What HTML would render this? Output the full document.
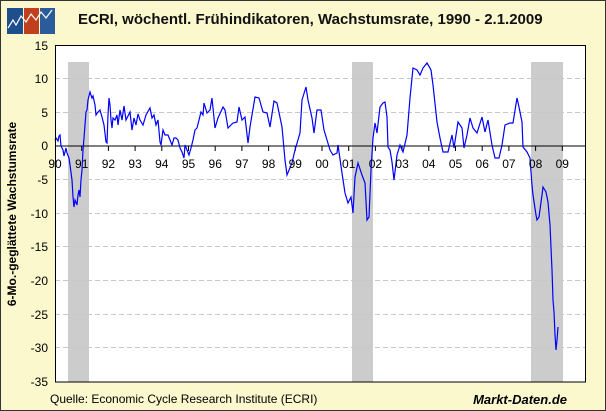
<!DOCTYPE html>
<html><head><meta charset="utf-8"><style>
body{margin:0;width:606px;height:411px;overflow:hidden;background:#FAF8CC;}
svg{display:block;font-family:"Liberation Sans",sans-serif;}
</style></head><body>
<svg width="606" height="411" viewBox="0 0 606 411" xmlns="http://www.w3.org/2000/svg">
<rect x="0.5" y="0.5" width="605" height="410" fill="#FAF8CC" stroke="#333" stroke-width="1"/>
<rect x="7" y="8" width="16" height="26" fill="#1F4E8C"/>
<rect x="24" y="8" width="15" height="26" fill="#C0401E"/>
<rect x="40" y="8" width="15" height="26" fill="#2A5B9A"/>
<polyline points="8,28 13,20 16,25 21,16 26,22 31,14 36,20 41,12 46,18 52,10" fill="none" stroke="#fff" stroke-width="1.2"/>
<text x="78" y="24" font-size="15" font-weight="bold" fill="#111">ECRI, wöchentl. Frühindikatoren, Wachstumsrate, 1990 - 2.1.2009</text>
<rect x="55" y="45" width="530" height="337" fill="#fff"/>
<rect x="68" y="62" width="21" height="320" fill="#CCCCCC"/>
<rect x="352" y="62" width="21" height="320" fill="#CCCCCC"/>
<rect x="531" y="62" width="32" height="320" fill="#CCCCCC"/>
<g stroke="#C8C8C8" stroke-dasharray="5,3" stroke-width="1">
<line x1="55" x2="585" y1="78.5" y2="78.5"/><line x1="55" x2="585" y1="112.5" y2="112.5"/>
<line x1="55" x2="585" y1="179.5" y2="179.5"/><line x1="55" x2="585" y1="213.5" y2="213.5"/>
<line x1="55" x2="585" y1="246.5" y2="246.5"/><line x1="55" x2="585" y1="280.5" y2="280.5"/>
<line x1="55" x2="585" y1="314.5" y2="314.5"/><line x1="55" x2="585" y1="347.5" y2="347.5"/>
</g>
<line x1="55" x2="585" y1="146" y2="146" stroke="#000"/>
<g stroke="#000">
<line x1="81.7" x2="81.7" y1="146" y2="151"/><line x1="108.4" x2="108.4" y1="146" y2="151"/><line x1="135.1" x2="135.1" y1="146" y2="151"/><line x1="161.8" x2="161.8" y1="146" y2="151"/><line x1="188.5" x2="188.5" y1="146" y2="151"/><line x1="215.2" x2="215.2" y1="146" y2="151"/><line x1="241.9" x2="241.9" y1="146" y2="151"/><line x1="268.6" x2="268.6" y1="146" y2="151"/><line x1="295.3" x2="295.3" y1="146" y2="151"/><line x1="322" x2="322" y1="146" y2="151"/><line x1="348.7" x2="348.7" y1="146" y2="151"/><line x1="375.4" x2="375.4" y1="146" y2="151"/><line x1="402.1" x2="402.1" y1="146" y2="151"/><line x1="428.8" x2="428.8" y1="146" y2="151"/><line x1="455.5" x2="455.5" y1="146" y2="151"/><line x1="482.2" x2="482.2" y1="146" y2="151"/><line x1="508.9" x2="508.9" y1="146" y2="151"/><line x1="535.6" x2="535.6" y1="146" y2="151"/><line x1="562.3" x2="562.3" y1="146" y2="151"/>
</g>
<polyline fill="none" stroke="#0000FF" stroke-width="1.2" points="55,140 56,138 58,141 59,136 60,135 61,146 63,150 64,156 66,148 67,153 69,158 70,165 72,180 73,197 74,207 75,200 77,205 78,195 79,190 80,197 81,180 82,170 83,150 84,138 85,125 86,112 87,110 88,100 90,92 92,98 93,96 95,105 96,115 98,112 100,110 102,117 104,125 106,142 107,143 108,115 109,98 110,105 111,120 112,128 113,118 115,120 117,115 118,125 120,110 122,120 124,106 126,120 128,116 130,112 132,130 134,118 136,125 138,114 140,120 143,125 146,115 150,108 152,118 154,115 156,125 158,120 160,142 161,145 163,130 165,135 168,135 170,140 172,145 174,138 176,138 178,140 180,148 182,152 184,158 185,145 187,150 189,155 191,148 193,140 195,130 197,128 199,120 201,112 203,115 204,103 207,113 210,110 212,98 215,128 218,118 223,107 225,110 228,128 233,123 237,122 239,107 242,120 245,117 248,143 250,127 255,97 259,98 263,112 267,113 270,127 274,101 277,103 282,127 285,160 287,175 292,163 295,150 300,133 302,100 306,87 308,100 312,118 314,133 317,110 321,110 324,130 327,140 330,150 333,155 337,153 338,145 342,173 345,193 348,203 351,197 353,213 355,177 358,163 362,175 365,183 367,220 369,217 371,170 373,138 375,123 377,133 380,107 383,103 385,102 387,117 388,147 390,150 392,162 394,180 397,155 400,145 403,152 407,135 410,98 413,68 417,70 420,75 423,68 427,63 431,70 433,85 437,122 440,138 443,152 448,152 452,135 454,148 458,122 462,128 464,148 467,135 470,118 473,128 477,133 482,117 485,132 488,120 492,145 495,158 499,158 502,145 505,125 510,123 513,123 517,98 519,107 522,122 523,147 527,152 530,158 532,185 533,195 536,215 537,220 539,217 542,195 543,187 546,192 548,202 550,225 552,270 553,300 554,312 555,335 556,350 557,340 558,327"/>
<rect x="55.5" y="45.5" width="530" height="336.5" fill="none" stroke="#000"/>
<g font-size="12" fill="#000" text-anchor="end">
<text x="48" y="50">15</text><text x="48" y="83">10</text><text x="48" y="117">5</text><text x="48" y="150">0</text>
<text x="48" y="184">-5</text><text x="48" y="218">-10</text><text x="48" y="251">-15</text><text x="48" y="285">-20</text><text x="48" y="319">-25</text><text x="48" y="352">-30</text><text x="48" y="386">-35</text>
</g>
<g font-size="12" fill="#000" text-anchor="middle">
<text x="55" y="168">90</text><text x="81.7" y="168">91</text><text x="108.4" y="168">92</text><text x="135.1" y="168">93</text><text x="161.8" y="168">94</text><text x="188.5" y="168">95</text><text x="215.2" y="168">96</text><text x="241.9" y="168">97</text><text x="268.6" y="168">98</text><text x="295.3" y="168">99</text><text x="322" y="168">00</text><text x="348.7" y="168">01</text><text x="375.4" y="168">02</text><text x="402.1" y="168">03</text><text x="428.8" y="168">04</text><text x="455.5" y="168">05</text><text x="482.2" y="168">06</text><text x="508.9" y="168">07</text><text x="535.6" y="168">08</text><text x="562.3" y="168">09</text>
</g>
<text transform="translate(16,214) rotate(-90)" font-size="12" font-weight="bold" text-anchor="middle" fill="#000">6-Mo.-geglättete Wachstumsrate</text>
<text x="50" y="403" font-size="12" fill="#000">Quelle: Economic Cycle Research Institute (ECRI)</text>
<text x="567" y="404" font-size="13" font-weight="bold" font-style="italic" text-anchor="end" fill="#000">Markt-Daten.de</text>
</svg>
</body></html>
